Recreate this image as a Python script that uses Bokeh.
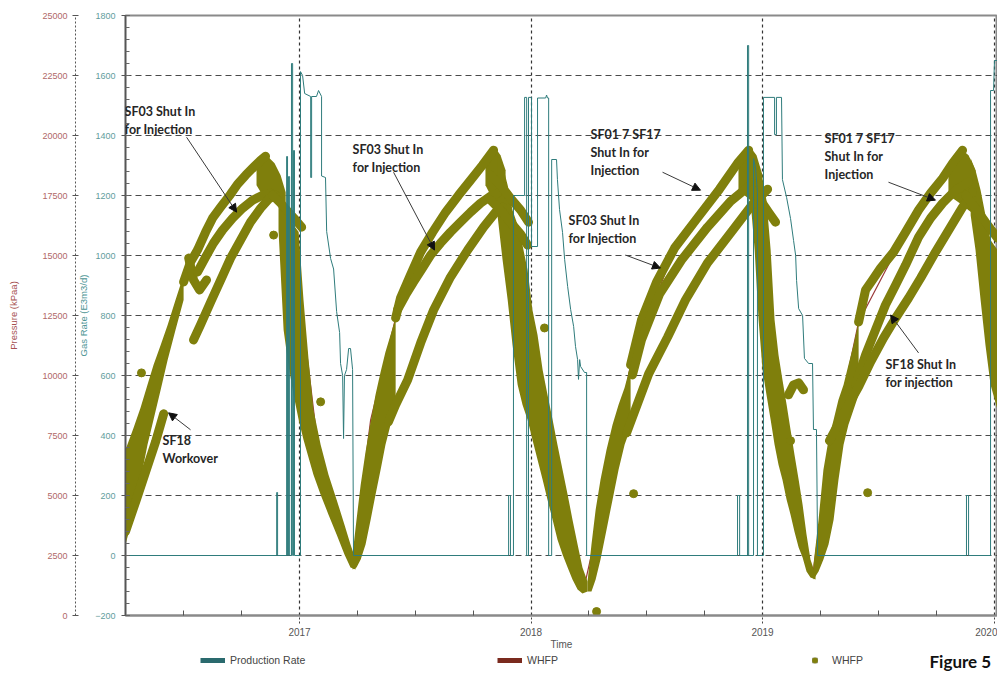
from bokeh.plotting import figure
from bokeh.layouts import column
from bokeh.models import (Range1d, LinearAxis, SingleIntervalTicker, FixedTicker, Label,
                          Arrow, NormalHead, Legend, LegendItem)
from bokeh.embed import file_html
from bokeh.resources import INLINE

# ---------------- data ----------------
year_ticks = [2017, 2018, 2019, 2020]
year_labels = ["2017", "2018", "2019", "2020"]
quarter_ticks = [2016.25, 2016.5, 2016.75, 2017.25, 2017.5, 2017.75,
                 2018.25, 2018.5, 2018.75, 2019.25, 2019.5, 2019.75]

# Production rate (E3m3/d)
prod_t = [2016.248, 2016.901, 2016.901, 2016.905, 2016.905, 2016.944, 2016.944, 2016.948, 2016.948,
          2016.952, 2016.952, 2016.957, 2016.957, 2016.965, 2016.965, 2016.970, 2016.970, 2016.974,
          2016.974, 2016.978, 2016.978, 2017.004, 2017.004, 2017.013, 2017.022, 2017.048, 2017.048,
          2017.052, 2017.052, 2017.073, 2017.082, 2017.095, 2017.095, 2017.112, 2017.117, 2017.134,
          2017.147, 2017.160, 2017.173, 2017.177, 2017.186, 2017.190, 2017.194, 2017.203, 2017.212,
          2017.220, 2017.229, 2017.233,
          2017.903, 2017.903, 2017.911, 2017.911, 2017.924, 2017.924, 2017.972, 2017.972, 2017.981,
          2017.981, 2017.989, 2017.989, 2018.002, 2018.002, 2018.028, 2018.028, 2018.063, 2018.067,
          2018.071, 2018.076, 2018.076, 2018.089, 2018.089, 2018.110, 2018.114, 2018.123, 2018.136,
          2018.145, 2018.158, 2018.171, 2018.184, 2018.192, 2018.201, 2018.205, 2018.210, 2018.214,
          2018.231, 2018.240, 2018.240,
          2018.892, 2018.892, 2018.901, 2018.901, 2018.935, 2018.935, 2018.940, 2018.940, 2018.961,
          2018.961, 2018.970, 2018.978, 2018.978, 2019.004, 2019.004, 2019.052, 2019.052, 2019.060,
          2019.060, 2019.082, 2019.086, 2019.104, 2019.121, 2019.134, 2019.143, 2019.147, 2019.156,
          2019.173, 2019.181, 2019.199, 2019.216, 2019.220, 2019.233, 2019.238,
          2019.881, 2019.881, 2019.890, 2019.890, 2019.985, 2019.985, 2019.998, 2020.002, 2020.015]
prod_rate = [0, 0, 210, 210, 0, 0, 1330, 1330, 0,
             0, 1263, 1263, 0, 0, 1640, 1640, 0, 0,
             1350, 1350, 0, 0, 1613, 1600, 1540, 1530, 1260,
             1260, 1530, 1530, 1550, 1530, 1265, 1260, 1080, 990,
             955, 813, 743, 640, 600, 390, 600, 620, 690,
             690, 620, 0,
             0, 200, 200, 0, 0, 1200, 1200, 1527, 1527,
             0, 0, 1527, 1527, 1030, 1030, 1525, 1525, 1535,
             1525, 1525, 0, 0, 1320, 1320, 1253, 1153, 1077,
             987, 897, 820, 763, 697, 653, 587, 653, 630,
             610, 610, 0,
             0, 200, 200, 0, 0, 1700, 1700, 0, 0,
             1323, 1290, 1210, 0, 0, 1527, 1527, 1403, 1403,
             1527, 1527, 1253, 1193, 1123, 1050, 1000, 917, 823,
             800, 657, 640, 640, 420, 420, 0,
             0, 200, 200, 0, 0, 1550, 1550, 1650, 1650]

# WHFP line (kPaa)
whfp_line_t = [2016.248, 2016.369, 2016.499, 2016.659, 2016.832, 2016.853, 2016.918, 2017.004, 2017.091,
               2017.229, 2017.307, 2017.415, 2017.575, 2017.739, 2017.842, 2017.890, 2017.998, 2018.127,
               2018.227, 2018.343, 2018.430, 2018.620, 2018.814, 2018.940, 2018.991, 2019.078, 2019.164,
               2019.216, 2019.272, 2019.415, 2019.618, 2019.778, 2019.864, 2019.942, 2020.015]
whfp_line_p = [6074, 10150, 13894, 17014, 18970, 19178, 17306, 13146, 6074,
               2080, 8154, 12397, 15974, 18138, 19469, 17306, 11066, 4826,
               1082, 6074, 10442, 15309, 17763, 19510, 15226, 7738, 3162,
               1622, 5658, 12230, 15974, 18221, 19469, 15642, 11898]

# WHFP scatter clouds (time, low pressure, high pressure)
cloud_c1_t = [2016.248, 2016.283, 2016.313, 2016.343, 2016.369, 2016.400, 2016.430, 2016.464, 2016.499]
cloud_c1_lo = [2954, 4202, 5658, 7114, 8154, 9402, 10650, 11898, 13146]
cloud_c1_hi = [6906, 7821, 8653, 9610, 10442, 11274, 12106, 13146, 14186]

peak1_t = [2016.814, 2016.840, 2016.866, 2016.892, 2016.918, 2016.940]
peak1_lo = [17930, 17514, 17306, 17306, 17098, 16890]
peak1_hi = [18762, 19136, 19094, 18845, 18346, 17638]

desc1_t = [2016.909, 2016.931, 2016.952, 2016.974, 2016.996, 2017.017, 2017.039, 2017.060, 2017.091,
           2017.125, 2017.160, 2017.194, 2017.220, 2017.242]
desc1_lo = [16058, 11898, 10442, 9194, 8154, 7322, 6573, 5866, 5034, 4202, 3370, 2538, 1997, 1914]
desc1_hi = [17514, 17306, 16682, 16266, 15974, 13146, 10650, 8570, 7114, 5866, 4826, 3786, 2954, 2330]

cloud_c2_t = [2017.229, 2017.246, 2017.264, 2017.285, 2017.307, 2017.328, 2017.350, 2017.371, 2017.393, 2017.415]
cloud_c2_lo = [1914, 1997, 2330, 2954, 3994, 5034, 6074, 7114, 7946, 8570]
cloud_c2_hi = [2538, 3994, 5450, 6822, 8070, 9194, 10150, 10982, 11690, 12397]

peak2_t = [2017.803, 2017.825, 2017.847, 2017.868, 2017.890]
peak2_lo = [17930, 17514, 17098, 16890, 16682]
peak2_hi = [18970, 19302, 19469, 19178, 18554]

desc2_t = [2017.855, 2017.877, 2017.899, 2017.920, 2017.942, 2017.963, 2017.985, 2018.006, 2018.028,
           2018.050, 2018.071, 2018.093, 2018.114, 2018.136, 2018.158, 2018.179, 2018.201, 2018.222, 2018.244]
desc2_lo = [16682, 14810, 13146, 11274, 9610, 8778, 8154, 7322, 6490, 5658, 4826, 3994, 3162, 2538,
            1997, 1498, 1082, 915, 998]
desc2_hi = [19178, 18762, 17930, 16890, 16266, 15434, 14394, 12730, 11690, 10234, 9194, 8154, 7114,
            6074, 5034, 3994, 2954, 1997, 1414]

cloud_c3_t = [2018.244, 2018.261, 2018.279, 2018.300, 2018.326, 2018.352, 2018.378, 2018.404, 2018.430]
cloud_c3_lo = [998, 998, 1498, 2330, 3578, 4826, 6074, 7114, 7821]
cloud_c3_hi = [1414, 2954, 4410, 5658, 6906, 7946, 8778, 9485, 10442]

peak3_t = [2018.896, 2018.922, 2018.948, 2018.974, 2019.000]
peak3_lo = [17722, 17514, 17306, 17098, 16682]
peak3_hi = [18762, 19302, 19510, 19178, 18346]

desc3_t = [2018.948, 2018.966, 2018.983, 2019.000, 2019.017, 2019.035, 2019.052, 2019.069, 2019.086,
           2019.104, 2019.121, 2019.138, 2019.156, 2019.173, 2019.190, 2019.207, 2019.229]
desc3_lo = [17306, 15226, 12314, 10234, 9194, 8154, 7114, 6282, 5658, 4826, 4202, 3494, 2829, 2413,
            1830, 1581, 1498]
desc3_hi = [19386, 19178, 18554, 18138, 17306, 15226, 12314, 10858, 9818, 8778, 7738, 6698, 5658,
            4618, 3370, 2330, 1706]

cloud_c4_t = [2019.220, 2019.242, 2019.263, 2019.285, 2019.307, 2019.328, 2019.350, 2019.371, 2019.393, 2019.415]
cloud_c4_lo = [1498, 1830, 2330, 2954, 3994, 5658, 7114, 7946, 8570, 9194]
cloud_c4_hi = [2122, 3994, 6074, 7322, 8154, 8986, 9610, 10442, 11274, 12230]

peak4_t = [2019.803, 2019.834, 2019.864, 2019.890, 2019.920]
peak4_lo = [17514, 17306, 17098, 16890, 16682]
peak4_hi = [18470, 18970, 19386, 19178, 18554]

desc4_t = [2019.899, 2019.920, 2019.942, 2019.963, 2019.985, 2020.015]
desc4_lo = [16682, 15226, 13146, 11274, 9610, 8570]
desc4_hi = [19053, 18554, 17722, 16682, 15642, 15226]

# WHFP per-well traces (time, pressure)
sf18_wo_t = [2016.248, 2016.292, 2016.335, 2016.378, 2016.413]
sf18_wo_p = [3494, 4742, 5990, 7238, 8403]

up1_a_t = [2016.499, 2016.529, 2016.559, 2016.594, 2016.624, 2016.659, 2016.702, 2016.732, 2016.767,
           2016.801, 2016.832, 2016.853]
up1_a_p = [13894, 14726, 15226, 15974, 16557, 17014, 17555, 17971, 18346, 18678, 18970, 19136]
notch1_t = [2016.521, 2016.542, 2016.568, 2016.598]
notch1_p = [14893, 13978, 13562, 13978]
up1_b_t = [2016.559, 2016.594, 2016.628, 2016.667, 2016.711, 2016.754, 2016.797, 2016.840, 2016.875]
up1_b_p = [14310, 14934, 15517, 16058, 16557, 16973, 17306, 17514, 17597]
up1_c_t = [2016.542, 2016.572, 2016.616, 2016.659, 2016.702, 2016.745, 2016.788, 2016.832, 2016.866, 2016.896]
up1_c_p = [11482, 12106, 13062, 13978, 14893, 15642, 16390, 16973, 17347, 17514]
decl1_t = [2016.883, 2016.918, 2016.952, 2016.983, 2017.009]
decl1_p = [17514, 17181, 16806, 16474, 16182]

up2_a_t = [2017.415, 2017.436, 2017.479, 2017.523, 2017.575, 2017.631, 2017.687, 2017.739, 2017.790, 2017.838]
up2_a_p = [12397, 13229, 14186, 15142, 15974, 16806, 17514, 18138, 18762, 19386]
up2_b_t = [2017.423, 2017.458, 2017.492, 2017.531, 2017.566, 2017.609, 2017.652, 2017.695, 2017.739,
           2017.782, 2017.825, 2017.855]
up2_b_p = [12730, 13354, 13894, 14477, 15018, 15517, 15974, 16390, 16806, 17181, 17472, 17597]
up2_c_t = [2017.384, 2017.415, 2017.467, 2017.523, 2017.579, 2017.652, 2017.726, 2017.795, 2017.847, 2017.877]
up2_c_p = [8070, 8778, 9818, 11357, 12730, 14102, 15226, 16182, 16806, 17014]
decl2_a_t = [2017.825, 2017.868, 2017.911, 2017.955, 2017.989]
decl2_a_p = [18346, 17930, 17389, 16890, 16390]
decl2_b_t = [2017.825, 2017.868, 2017.911, 2017.955, 2017.985]
decl2_b_p = [17306, 16890, 16390, 15891, 15434]

up3_a_t = [2018.430, 2018.477, 2018.542, 2018.620, 2018.715, 2018.814, 2018.892, 2018.940]
up3_a_p = [10442, 12314, 13894, 15309, 16515, 17763, 18845, 19386]
up3_b_t = [2018.438, 2018.477, 2018.555, 2018.650, 2018.762, 2018.862, 2018.957]
up3_b_p = [10026, 11482, 13395, 14810, 16182, 17264, 18013]
up3_c_t = [2018.413, 2018.508, 2018.590, 2018.667, 2018.762, 2018.862, 2018.957, 2019.022]
up3_c_p = [7613, 10067, 11606, 13146, 14685, 15933, 17139, 17763]
decl3_t = [2018.957, 2018.991, 2019.026, 2019.056]
decl3_p = [17722, 17306, 16806, 16390]

up4_a_t = [2019.415, 2019.445, 2019.475, 2019.510, 2019.566, 2019.618, 2019.674, 2019.726, 2019.778,
           2019.821, 2019.864]
up4_a_p = [12230, 13562, 13978, 14477, 15142, 15974, 16890, 17597, 18221, 18845, 19386]
up4_b_t = [2019.402, 2019.445, 2019.488, 2019.531, 2019.575, 2019.618, 2019.674, 2019.726, 2019.778,
           2019.834, 2019.890]
up4_b_p = [9610, 10858, 11898, 12938, 13770, 14602, 15766, 16557, 17181, 17722, 18054]
up4_c_t = [2019.289, 2019.359, 2019.415, 2019.467, 2019.523, 2019.575, 2019.631, 2019.683, 2019.747,
           2019.812, 2019.864, 2019.907]
up4_c_p = [7280, 8570, 9526, 10566, 11565, 12397, 13229, 14061, 15142, 16182, 17014, 17638]
decl4_t = [2019.877, 2019.920, 2019.963, 2020.015]
decl4_p = [17514, 16973, 16390, 15725]

arc3_t = [2019.112, 2019.134, 2019.156, 2019.177]
arc3_p = [9194, 9610, 9693, 9402]

outlier_t = [2016.317, 2016.888, 2017.091, 2018.058, 2018.443, 2018.283, 2019.454, 2019.121]
outlier_p = [10109, 15850, 8902, 11981, 5075, 166, 5117, 7280]

# ---------------- main figure ----------------
OLIVE = "#7f7f0c"
TEAL = "#2f7c7c"
RED = "#9a3a3a"

p = figure(width=997, height=652, output_backend="svg", toolbar_location=None,
           x_range=Range1d(2016.248, 2020.015), y_range=Range1d(-200, 1800),
           min_border_left=125, min_border_right=0, min_border_top=15, min_border_bottom=36,
           background_fill_color="white", border_fill_color="white")
p.extra_y_ranges = {"pressure": Range1d(0, 25000)}
p.outline_line_color = "#8a8a8a"
p.outline_line_width = 2

# grids
p.xgrid.ticker = FixedTicker(ticks=year_ticks)
p.xgrid.grid_line_color = "#333333"
p.xgrid.grid_line_dash = "3 3"
p.xgrid.grid_line_width = 1.2
p.ygrid.ticker = SingleIntervalTicker(interval=200)
p.ygrid.grid_line_color = "#4a4a4a"
p.ygrid.grid_line_dash = "6 4"
p.ygrid.grid_line_width = 1.1

# x axis
xa = p.xaxis[0]
xa.ticker = FixedTicker(ticks=year_ticks, minor_ticks=quarter_ticks)
xa.major_label_overrides = {t: s for t, s in zip(year_ticks, year_labels)}
xa.axis_label = "Time"
xa.axis_label_text_font = "Liberation Sans"
xa.axis_label_text_font_style = "normal"
xa.axis_label_text_font_size = "10px"
xa.axis_label_text_color = "#555555"
xa.axis_label_standoff = 0
xa.major_label_text_font = "Liberation Sans"
xa.major_label_text_font_size = "10px"
xa.major_label_text_color = "#555555"
xa.major_label_standoff = 4
xa.axis_line_color = "#8a8a8a"
xa.axis_line_width = 2
xa.major_tick_in = 0
xa.major_tick_out = 8
xa.major_tick_line_color = "#444444"
xa.major_tick_line_dash = "2 2"
xa.minor_tick_in = 5
xa.minor_tick_out = 0
xa.minor_tick_line_color = "#555555"

# gas rate axis (inner left)
ga = p.yaxis[0]
ga.ticker = SingleIntervalTicker(interval=200, num_minor_ticks=5)
ga.axis_label = "Gas Rate (E3m3/d)"
ga.axis_label_text_font = "Liberation Sans"
ga.axis_label_text_font_style = "normal"
ga.axis_label_text_font_size = "9.5px"
ga.axis_label_text_color = "#4d9494"
ga.axis_label_standoff = 3
ga.major_label_text_font = "Liberation Sans"
ga.major_label_text_font_size = "9px"
ga.major_label_text_color = "#5f9d9d"
ga.major_label_standoff = 6
ga.axis_line_color = "#555555"
ga.axis_line_width = 1.5
ga.major_tick_in = 4
ga.major_tick_out = 4
ga.minor_tick_in = 4
ga.minor_tick_out = 0
ga.major_tick_line_color = "#555555"
ga.minor_tick_line_color = "#666666"

# pressure axis (outer left)
pa = LinearAxis(y_range_name="pressure", ticker=SingleIntervalTicker(interval=2500, num_minor_ticks=0))
pa.axis_label = "Pressure (kPaa)"
pa.axis_label_text_font = "Liberation Sans"
pa.axis_label_text_font_style = "normal"
pa.axis_label_text_font_size = "9.5px"
pa.axis_label_text_color = "#a65050"
pa.axis_label_standoff = 20
pa.major_label_text_font = "Liberation Sans"
pa.major_label_text_font_size = "9px"
pa.major_label_text_color = "#b06868"
pa.major_label_standoff = 5
pa.axis_line_color = "#555555"
pa.axis_line_dash = "2 2"
pa.major_tick_in = 3
pa.major_tick_out = 3
pa.major_tick_line_color = "#555555"
p.add_layout(pa, "left")

# WHFP line (under the scatter)
p.line(whfp_line_t, whfp_line_p, y_range_name="pressure", line_color=RED, line_width=1.2)

# WHFP scatter clouds
for tt, lo, hi in [(cloud_c1_t, cloud_c1_lo, cloud_c1_hi), (peak1_t, peak1_lo, peak1_hi),
                   (desc1_t, desc1_lo, desc1_hi), (cloud_c2_t, cloud_c2_lo, cloud_c2_hi),
                   (peak2_t, peak2_lo, peak2_hi), (desc2_t, desc2_lo, desc2_hi),
                   (cloud_c3_t, cloud_c3_lo, cloud_c3_hi), (peak3_t, peak3_lo, peak3_hi),
                   (desc3_t, desc3_lo, desc3_hi), (cloud_c4_t, cloud_c4_lo, cloud_c4_hi),
                   (peak4_t, peak4_lo, peak4_hi), (desc4_t, desc4_lo, desc4_hi)]:
    p.varea(x=tt, y1=lo, y2=hi, y_range_name="pressure", fill_color=OLIVE)

# WHFP well traces
for tt, pp in [(sf18_wo_t, sf18_wo_p), (up1_a_t, up1_a_p), (notch1_t, notch1_p), (up1_b_t, up1_b_p),
               (up1_c_t, up1_c_p), (decl1_t, decl1_p), (up2_a_t, up2_a_p), (up2_b_t, up2_b_p),
               (up2_c_t, up2_c_p), (decl2_a_t, decl2_a_p), (decl2_b_t, decl2_b_p),
               (up3_a_t, up3_a_p), (up3_b_t, up3_b_p), (up3_c_t, up3_c_p), (decl3_t, decl3_p),
               (up4_a_t, up4_a_p), (up4_b_t, up4_b_p), (up4_c_t, up4_c_p), (decl4_t, decl4_p),
               (arc3_t, arc3_p)]:
    p.line(tt, pp, y_range_name="pressure", line_color=OLIVE, line_width=9,
           line_cap="round", line_join="round")

p.scatter(outlier_t, outlier_p, y_range_name="pressure", marker="circle", size=8,
          fill_color=OLIVE, line_color=OLIVE)

# production rate on top
p.line(prod_t, prod_rate, line_color=TEAL, line_width=1)

# annotations
notes = [
    (2016.244, 21299, "SF03 Shut In\nfor Injection", 2016.512, 19926, 2016.728, 16806),
    (2017.229, 19718, "SF03 Shut In\nfor Injection", 2017.406, 18470, 2017.583, 15226),
    (2018.257, 20342, "SF01 7 SF17\nShut In for\nInjection", 2018.568, 18470, 2018.732, 17722),
    (2018.162, 16765, "SF03 Shut In\nfor Injection", 2018.408, 15018, 2018.559, 14477),
    (2019.268, 20176, "SF01 7 SF17\nShut In for\nInjection", 2019.544, 18054, 2019.747, 17306),
    (2019.531, 10774, "SF18 Shut In\nfor injection", 2019.674, 10941, 2019.553, 12522),
    (2016.408, 7613, "SF18\nWorkover", 2016.529, 7738, 2016.434, 8445),
]
for lx, ly, txt, xs, ys, xe, ye in notes:
    p.add_layout(Arrow(end=NormalHead(size=8, fill_color="#111111", line_color="#111111"),
                       x_start=xs, y_start=ys, x_end=xe, y_end=ye, y_range_name="pressure",
                       line_color="#3a3a3a", line_width=1))
    p.add_layout(Label(x=lx, y=ly, y_range_name="pressure", text=txt, text_font="Lato",
                       text_font_style="bold", text_font_size="12.5px", text_color="#262626",
                       text_baseline="top", text_align="left", text_line_height=1.2))

# ---------------- legend strip ----------------
NAN = float("nan")
leg = figure(width=997, height=25, output_backend="svg", toolbar_location=None,
             x_range=Range1d(0, 1), y_range=Range1d(0, 1), x_axis_location=None,
             y_axis_location=None, min_border=0, outline_line_color=None,
             background_fill_color="white", border_fill_color="white")
leg.grid.visible = False
sw_prod = leg.line(x=[NAN], y=[NAN], line_color="#2a6a6e", line_width=5)
sw_whfp_line = leg.line(x=[NAN], y=[NAN], line_color="#7a2a1e", line_width=5)
sw_box = leg.scatter(x=[NAN], y=[NAN], marker="square", size=13, fill_color="#f7f4d2",
                     line_color="#888866")
sw_dot = leg.scatter(x=[NAN], y=[NAN], marker="circle", size=5, fill_color=OLIVE, line_color=OLIVE)

for label, rends, xoff in [("Production Rate", [sw_prod], 75),
                           ("WHFP", [sw_whfp_line], 372),
                           ("WHFP", [sw_box, sw_dot], 677)]:
    leg.add_layout(Legend(items=[LegendItem(label=label, renderers=rends)], location=(xoff, 11),
                          border_line_alpha=0, background_fill_alpha=0, padding=0, margin=0,
                          glyph_width=25, glyph_height=12, label_height=12, label_standoff=5,
                          label_text_font="Liberation Sans", label_text_font_size="10.5px",
                          label_text_color="#444444"))

leg.add_layout(Label(x=804, y=16, x_units="screen", y_units="screen", text="Figure 5",
                     text_font="Lato", text_font_style="bold", text_font_size="17px",
                     text_color="#111111", text_baseline="middle", text_align="left"))

open("out.html", "w").write(file_html(column(p, leg), INLINE))
